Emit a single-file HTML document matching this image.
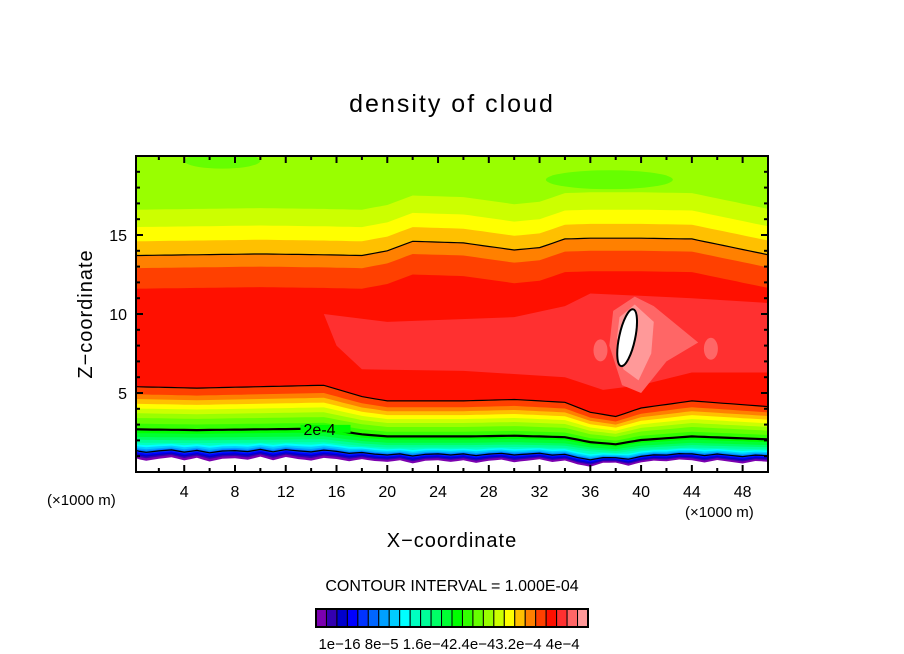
<!DOCTYPE html>
<html><head><meta charset="utf-8"><style>
html,body{margin:0;padding:0;background:#fff;}
svg{display:block;font-family:"Liberation Sans","DejaVu Sans",sans-serif;}
</style></head><body>
<svg id="chart" width="904" height="654" viewBox="0 0 904 654" xmlns="http://www.w3.org/2000/svg">
<text x="452" y="112" text-anchor="middle" font-size="25" letter-spacing="2">density of cloud</text>
<g id="plot"></g>
<text transform="translate(92,314) rotate(-90)" text-anchor="middle" font-size="20" letter-spacing="1">Z−coordinate</text>
<text x="452" y="547" text-anchor="middle" font-size="20" letter-spacing="1">X−coordinate</text>
<text x="47" y="505" font-size="15">(×1000 m)</text>
<text x="685" y="517" font-size="15">(×1000 m)</text>
<text x="452" y="591" text-anchor="middle" font-size="16">CONTOUR INTERVAL = 1.000E-04</text>
<g id="cbar"></g>
<text x="449" y="649" text-anchor="middle" font-size="15">1e−16 8e−5 1.6e−42.4e−43.2e−4 4e−4</text>
</svg>
<script>
// ---- data ----
const xs        = [0,5,10,15,18,20,22,26,30,32,34,36,38,40,44,50];
const upperBase = [13.7,13.75,13.8,13.75,13.7,14.0,14.6,14.5,14.05,14.2,14.75,14.8,14.8,14.8,14.75,13.75];
const lowerBase = [6.0,5.9,6.0,6.1,5.3,5.0,5.0,5.0,5.1,5.0,4.9,4.2,3.9,4.5,5.0,4.6];
const upperColors  = ['#ccff00','#ffff00','#ffc000','#ff8000','#ff4000','#ff1000'];
const upperOffsets = [2.9,1.8,0.9,0,-0.8,-2.1];
const lowerColors  = ['#ff4000','#ff8000','#ffc000','#ffff00','#ccff00','#99ff00','#66ff00','#33ff00','#00ff00','#00ff33','#00ff66','#00ff99','#00ffc0','#00ffff','#00ccff','#00a0ff','#0066ff','#0033ff','#0000ff','#0000cc','#3300b0','#7b00b0','#ffffff'];
const lowerFracs   = [0.9,0.82,0.77,0.72,0.67,0.62,0.57,0.51,0.45,0.41,0.37,0.34,0.31,0.29,0.27,0.25,0.235,0.22,0.205,0.19,0.175,0.16,0.135];
const bottomNoise  = [0.1,-0.15,0.05,0.2,-0.1,0.15,-0.2,0.05,0.1,-0.05,0.25,-0.1,0.2,0.0,-0.15,0.1,0.05,-0.1,0.15,0.0,-0.05,0.1,-0.2,0.05,0.1,-0.05,0.1,-0.15,0.05,0.15,-0.1,0.05,0.2,-0.05,0.1,-0.2,-0.35,0.05,0.1,-0.25,0.0,0.15,0.05,0.2,0.1,-0.1,0.15,0.0,-0.15,0.1,0.05];
const coreX = [15,20,30,34,36,44,50,50,44,40,37,34,26,18,16];
const coreZ = [10.0,9.5,9.8,10.5,11.3,11.0,10.7,6.3,6.3,5.5,5.2,6.0,6.4,6.5,8.0];
const hot1X = [37.8,39.5,41,44.5,42,40,38.5,37.5];
const hot1Z = [10.2,11.1,10.5,8.2,7.0,5.0,5.5,8.0];
const hot2X = [38.3,39.5,41,40.8,39.8,38.6,38.1];
const hot2Z = [9.8,10.6,9.5,7.5,5.8,6.5,8.5];
const blobX = [36.8,45.5], blobZ = [7.7,7.8];
const greenX = [37.5,7], greenZ = [18.5,19.7], greenRx = [5,3], greenRz = [0.6,0.5];
const coreMaxX = 38.9, coreMaxZ = 8.5;
const lineFracs = [0.9,0.45,0.22];
const contourLabel = '2e-4', labelX = 13.4;
const xTicks = [4,8,12,16,20,24,28,32,36,40,44,48];
const yTicks = [5,10,15];
const cbarColors = ['#7b00b0','#3300b0','#0000cc','#0000ff','#0033ff','#0066ff','#00a0ff','#00ccff','#00ffff','#00ffc0','#00ff99','#00ff66','#00ff33','#00ff00','#33ff00','#66ff00','#99ff00','#ccff00','#ffff00','#ffc000','#ff8000','#ff4000','#ff1000','#ff3030','#ff6666','#ff9999'];

// ---- axes ----
const L=136,R=768,T=156,B=472, X0=0.2,X1=50, Z0=0,Z1=20;
const sx = x => L + (x-X0)/(X1-X0)*(R-L);
const sz = z => B - (z-Z0)/(Z1-Z0)*(B-T);
const NS='http://www.w3.org/2000/svg';
const plot=document.getElementById('plot');
function mk(tag,attrs,parent){const e=document.createElementNS(NS,tag);for(const k in attrs)e.setAttribute(k,attrs[k]);(parent||plot).appendChild(e);return e;}
function interp(arr,x){for(let i=0;i<xs.length-1;i++){if(x<=xs[i+1]){const t=(x-xs[i])/(xs[i+1]-xs[i]);return arr[i]+t*(arr[i+1]-arr[i]);}}return arr[arr.length-1];}
function noiseAt(x){const i=Math.min(Math.floor(x),49),t=x-i;return bottomNoise[i]*(1-t)+bottomNoise[i+1]*t;}
const fine=[];for(let x=0;x<=50;x+=0.5)fine.push(x);
function curve(fn){return fine.map(x=>sx(Math.max(x,X0)).toFixed(1)+','+sz(fn(x)).toFixed(1)).join(' ');}
function lowerZ(x,f){return interp(lowerBase,x)*f + (f<0.3? noiseAt(x)*(1-f*2.5) : 0);}

const defs=mk('defs',{});
const cp=mk('clipPath',{id:'pc'},defs);mk('rect',{x:L,y:T,width:R-L,height:B-T},cp);
const g=mk('g',{'clip-path':'url(#pc)'});


let bg=mk('rect',{x:L,y:T,width:R-L,height:B-T,fill:'#99ff00'},g);


greenX.forEach((gx,i)=>{const e=mk('ellipse',{cx:sx(gx),cy:sz(greenZ[i]),rx:greenRx[i]*(R-L)/(X1-X0),ry:greenRz[i]*(B-T)/(Z1-Z0),fill:'#66ff00'},g);

});
upperColors.forEach((c,k)=>{
  const pts=curve(x=>interp(upperBase,x)+upperOffsets[k])+` ${R},${B} ${L},${B}`;
  const p=mk('polygon',{points:pts,fill:c},g);
  
  
});
function poly(X,Z,c,name){const p=mk('polygon',{points:X.map((x,i)=>sx(x)+','+sz(Z[i])).join(' '),fill:c,'stroke-linejoin':'round'},g);

}
poly(coreX,coreZ,'#ff3030','core-band');
poly(hot1X,hot1Z,'#ff6666','hot-band-1');
poly(hot2X,hot2Z,'#ff9999','hot-band-2');
blobX.forEach((bx,i)=>{const e=mk('ellipse',{cx:sx(bx),cy:sz(blobZ[i]),rx:7,ry:11,fill:'#ff6666'},g);

});
const mx=mk('ellipse',{cx:sx(coreMaxX),cy:sz(coreMaxZ),rx:8,ry:29,fill:'#fff',stroke:'#000','stroke-width':2,transform:`rotate(12 ${sx(coreMaxX)} ${sz(coreMaxZ)})`},g);


lowerColors.forEach((c,k)=>{
  const f=lowerFracs[k];
  const pts=curve(x=>lowerZ(x,f))+` ${R},${B} ${L},${B}`;
  const p=mk('polygon',{points:pts,fill:c},g);
  
  
});
// contour lines
const ul=mk('polyline',{points:curve(x=>interp(upperBase,x)),fill:'none',stroke:'#000','stroke-width':1.2},g);


lineFracs.forEach((f,k)=>{
  const l=mk('polyline',{points:curve(x=>lowerZ(x,f)),fill:'none',stroke:'#000','stroke-width':k==1?2.2:1.2},g);
  
  
});
const lz=interp(lowerBase,labelX)*lineFracs[1];
const lb=mk('rect',{x:sx(labelX)-3,y:sz(lz)-4,width:50,height:8,fill:'#00ff00'},g);


const lt=mk('text',{x:sx(labelX),y:sz(lz)+6,'font-size':16},g);lt.textContent=contourLabel;


// frame & ticks
const fr=mk('rect',{x:L,y:T,width:R-L,height:B-T,fill:'none',stroke:'#000','stroke-width':2});


for(let x=2;x<=50;x+=2){const maj=x%4==0,len=maj?7:4;
  mk('line',{x1:sx(x),x2:sx(x),y1:B,y2:B-len,stroke:'#000','stroke-width':2});
  mk('line',{x1:sx(x),x2:sx(x),y1:T,y2:T+len,stroke:'#000','stroke-width':2});}
for(let z=1;z<20;z++){const len=z%5==0?7:4;
  mk('line',{x1:L,x2:L+len,y1:sz(z),y2:sz(z),stroke:'#000','stroke-width':2});
  mk('line',{x1:R,x2:R-len,y1:sz(z),y2:sz(z),stroke:'#000','stroke-width':2});}
xTicks.forEach(v=>{const t=mk('text',{x:sx(v),y:497,'text-anchor':'middle','font-size':16});t.textContent=v;

});
yTicks.forEach(v=>{const t=mk('text',{x:127,y:sz(v)+6,'text-anchor':'end','font-size':16});t.textContent=v;

});
// colorbar
const cb=document.getElementById('cbar');const cw=272/cbarColors.length;
cbarColors.forEach((c,i)=>{const r=mk('rect',{x:316+i*cw,y:609,width:cw,height:18,fill:c,stroke:'#000','stroke-width':1},cb);

});
mk('rect',{x:316,y:609,width:272,height:18,fill:'none',stroke:'#000','stroke-width':2},cb);
</script>
</body></html>
